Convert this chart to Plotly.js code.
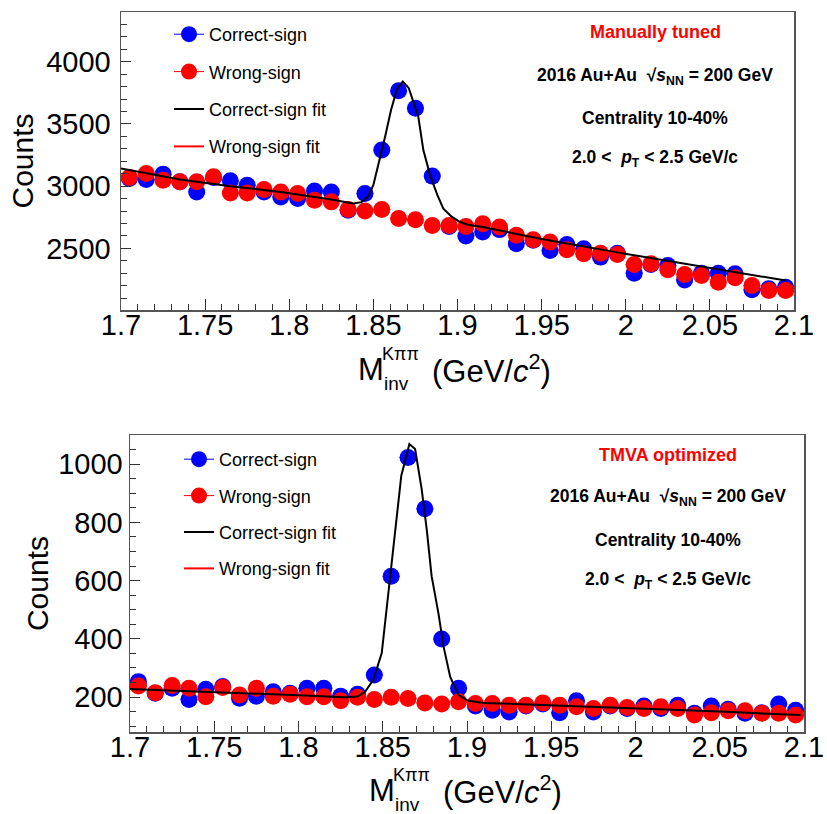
<!DOCTYPE html>
<html><head><meta charset="utf-8">
<script src="https://cdn.plot.ly/plotly-3.0.1.min.js"></script>
<style>html,body{margin:0;padding:0;background:#fff}#chart{width:827px;height:814px}</style>
</head><body><div id="chart"></div>
<script>
// ---------- DATA ----------
const binCenters = [1.705,1.715,1.725,1.735,1.745,1.755,1.765,1.775,1.785,1.795,1.805,1.815,1.825,1.835,1.845,1.855,1.865,1.875,1.885,1.895,
                    1.905,1.915,1.925,1.935,1.945,1.955,1.965,1.975,1.985,1.995,2.005,2.015,2.025,2.035,2.045,2.055,2.065,2.075,2.085,2.095];

// Top panel: manually tuned
const topCorrect = [3062,3054,3097,3035,2954,3070,3043,3008,2954,2914,2901,2962,2954,2806,2941,3290,3768,3627,3081,2677,
                    2600,2632,2651,2538,2565,2484,2532,2498,2430,2462,2301,2371,2363,2247,2301,2301,2296,2167,2175,2188];
const topWrong   = [3070,3102,3048,3035,3035,3075,2946,2946,2973,2954,2941,2887,2874,2812,2801,2812,2740,2731,2685,2685,
                    2677,2699,2672,2605,2570,2551,2489,2457,2462,2452,2371,2376,2328,2290,2282,2228,2264,2202,2161,2161];
const topFitX = [1.700,1.735,1.765,1.795,1.825,1.838,1.843,1.847,1.850,1.853,1.857,1.8605,1.864,1.8675,1.871,1.8767,1.8797,1.8837,1.888,1.8916,1.8965,1.9015,1.906,1.915,1.950,1.994,2.050,2.095];
const topFitY = [3142,3054,3000,2954,2893,2862,2872,2920,3010,3170,3400,3613,3780,3841,3790,3559,3290,3089,2930,2820,2755,2712,2690,2672,2575,2470,2342,2242];

// Bottom panel: TMVA optimized
const botCorrect = [253,213,230,192,227,236,196,203,218,213,230,230,203,210,276,615,1023,847,399,230,
                    169,155,149,169,176,146,187,149,169,161,169,161,172,144,169,158,144,146,176,155];
const botWrong   = [238,215,240,230,201,233,207,230,203,210,201,201,187,199,192,199,195,180,176,184,
                    178,178,172,172,180,172,167,161,172,164,161,167,161,138,146,153,153,144,144,138];
const botFitX = [1.700,1.750,1.800,1.827,1.835,1.8395,1.8444,1.8494,1.854,1.861,1.8658,1.8692,1.8731,1.8761,1.879,1.883,1.8861,1.890,1.8949,1.9008,1.910,1.950,1.989,2.050,2.098];
const botFitY = [228,218,206,199,202,218,259,351,600,960,1069,1052,914,776,615,489,373,270,207,187,180,172,164,150,138];

const xTicks = [1.7,1.75,1.8,1.85,1.9,1.95,2,2.05,2.1];
const xTickText = ['1.7','1.75','1.8','1.85','1.9','1.95','2','2.05','2.1'];

const legendNames = ['Correct-sign','Wrong-sign','Correct-sign fit','Wrong-sign fit'];
const panelTags = ['Manually tuned','TMVA optimized'];
const infoLines = ['2016 Au+Au  √<i>s</i><sub>NN</sub> = 200 GeV','Centrality 10-40%','2.0 <  <i>p</i><sub>T</sub> < 2.5 GeV/c'];

// ---------- STYLE ----------
const W = 827, H = 814;
const px = x => x / W, py = y => 1 - y / H;
const BLUE = 'rgb(0,0,255)', RED = 'rgb(255,0,0)';
const FONT = 'Liberation Sans, Arial, Helvetica, sans-serif';

function dataTraces(xa, ya, corr, wrong, fx, fy, leg) {
  const base = {type:'scatter', mode:'markers', x: binCenters, xaxis: xa, yaxis: ya, showlegend:false, cliponaxis:true};
  return [
    Object.assign({}, base, {y: corr, marker:{color:BLUE, size:17},
      error_x:{type:'constant', value:0.005, width:0, color:BLUE, thickness:1}}),
    Object.assign({}, base, {y: wrong, marker:{color:RED, size:17},
      error_x:{type:'constant', value:0.005, width:0, color:RED, thickness:1}}),
    {type:'scatter', mode:'lines', x: fx, y: fy, xaxis: xa, yaxis: ya, line:{color:'black', width:2},
      name: legendNames[2], legend: leg, legendgroup: leg+'c', legendrank: 3},
    {type:'scatter', mode:'lines+markers', x:[null], y:[null], xaxis: xa, yaxis: ya, name: legendNames[0],
      marker:{color:BLUE, size:16}, line:{color:BLUE, width:1}, legend: leg, legendgroup: leg+'a', legendrank: 1},
    {type:'scatter', mode:'lines+markers', x:[null], y:[null], xaxis: xa, yaxis: ya, name: legendNames[1],
      marker:{color:RED, size:16}, line:{color:RED, width:1}, legend: leg, legendgroup: leg+'b', legendrank: 2},
    {type:'scatter', mode:'lines', x:[null], y:[null], xaxis: xa, yaxis: ya, name: legendNames[3],
      line:{color:RED, width:2}, legend: leg, legendgroup: leg+'d', legendrank: 4}
  ];
}

const traces = [].concat(
  dataTraces('x','y', topCorrect, topWrong, topFitX, topFitY, 'legend'),
  dataTraces('x2','y2', botCorrect, botWrong, botFitX, botFitY, 'legend2')
);

function xAxis(dom, anchor) {
  return {domain: dom, anchor: anchor, range:[1.7,2.1], tickvals: xTicks, ticktext: xTickText,
    ticks:'inside', ticklen:11, tickwidth:1, tickcolor:'#333',
    minor:{dtick:0.01, tick0:1.7, ticks:'inside', ticklen:6, tickcolor:'#333', tickwidth:1},
    showline:true, linecolor:'#555', linewidth:1.5, mirror:true, showgrid:false, zeroline:false,
    tickfont:{family:FONT, size:29, color:'black'}, ticklabelstandoff: -11};
}
function yAxis(dom, anchor, rng, dt, mdt, lso, tso) {
  return {domain: dom, anchor: anchor, range: rng, dtick: dt, tick0: 0,
    ticks:'inside', ticklen:10, tickwidth:1, tickcolor:'#333',
    minor:{dtick: mdt, ticks:'inside', ticklen:6, tickcolor:'#333', tickwidth:1},
    showline:true, linecolor:'#555', linewidth:1.5, mirror:true, showgrid:false, zeroline:false,
    tickfont:{family:FONT, size:29, color:'black'}, ticklabelstandoff: lso,
    title:{text:'Counts', font:{family:FONT, size:30, color:'black'}, standoff: tso}};
}

const annotations = [];
function addText(text, x, y, size, color, opts) {
  annotations.push(Object.assign({text, x: px(x), y: py(y), xref:'paper', yref:'paper', showarrow:false,
    xanchor:'center', yanchor:'middle', font:{family:FONT, size, color}}, opts || {}));
}
// panel labels
[[0, 655, [32, 76, 118, 158]], [1, 668, [455, 497, 540, 580]]].forEach(([i, cx, ys]) => {
  addText('<b>' + panelTags[i] + '</b>', cx, ys[0], 18, RED);
  infoLines.forEach((t, k) => addText('<b>' + t + '</b>', cx, ys[k+1], 17.5, 'black'));
});
// x-axis titles (stacked sub/superscript)
[[386, 369], [397, 790]].forEach(([mx, my]) => {
  addText('M', mx, my, 31, 'black', {xanchor:'right'});
  addText('Kππ', mx - 6, my - 15, 18, 'black', {xanchor:'left'});
  addText('inv', mx - 4, my + 14, 19, 'black', {xanchor:'left'});
  addText('(GeV/<i>c</i><sup>2</sup>)', mx + 44, my, 31, 'black', {xanchor:'left'});
});

const legendCommon = {font:{family:FONT, size:18, color:'black'}, bgcolor:'rgba(0,0,0,0)', borderwidth:0,
  traceorder:'grouped', xanchor:'left', yanchor:'top', itemwidth:30};

const layout = {
  width: W, height: H, margin:{l:0, r:0, t:0, b:0}, paper_bgcolor:'white', plot_bgcolor:'white',
  showlegend: true,
  xaxis: xAxis([px(121), px(794)], 'y'),
  yaxis: yAxis([py(310), py(12)], 'x', [2005, 4400], 500, 100, 3, 3),
  xaxis2: xAxis([px(130), px(804)], 'y2'),
  yaxis2: yAxis([py(732), py(435)], 'x2', [80, 1100], 200, 50, 0, 0),
  legend: Object.assign({x: px(169), y: py(16), tracegroupgap: 11}, legendCommon),
  legend2: Object.assign({x: px(179), y: py(441), tracegroupgap: 10}, legendCommon),
  annotations
};

Plotly.newPlot('chart', traces, layout, {displayModeBar:false, staticPlot:true});
</script></body></html>
